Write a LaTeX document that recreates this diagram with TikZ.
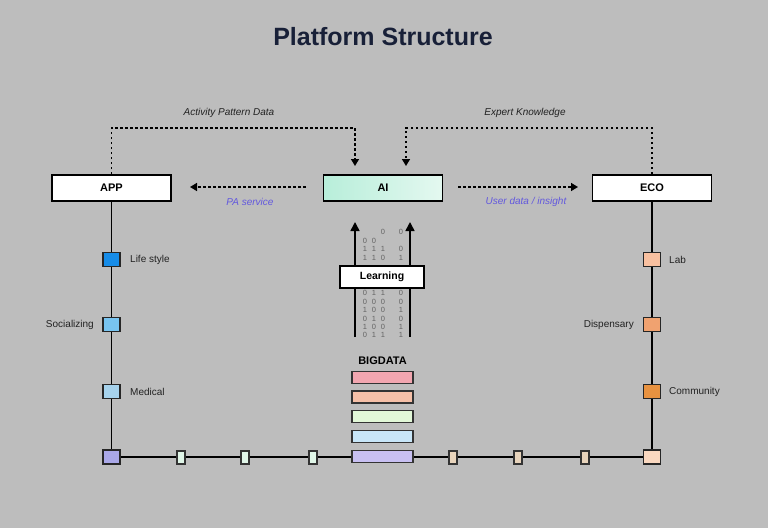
\documentclass[tikz,border=0pt]{standalone}
\usepackage{fontspec}
\setmainfont{Liberation Sans}
\usetikzlibrary{arrows.meta,calc}
\definecolor{bg}{RGB}{189,189,189}
\definecolor{titlecol}{RGB}{24,32,56}
\definecolor{txt}{RGB}{34,34,34}
\definecolor{bluelbl}{RGB}{98,88,222}
\definecolor{aimint}{RGB}{184,238,218}
\definecolor{aimintl}{RGB}{228,248,240}
\definecolor{digit}{RGB}{100,100,100}
\definecolor{sqA}{RGB}{22,140,232}
\definecolor{sqB}{RGB}{120,196,240}
\definecolor{sqC}{RGB}{166,210,236}
\definecolor{sqD}{RGB}{170,168,232}
\definecolor{sqE}{RGB}{248,192,160}
\definecolor{sqF}{RGB}{240,162,112}
\definecolor{sqG}{RGB}{232,146,64}
\definecolor{sqH}{RGB}{250,216,192}
\definecolor{tkG}{RGB}{224,246,232}
\definecolor{tkB}{RGB}{232,212,188}
\definecolor{barA}{RGB}{242,166,176}
\definecolor{barB}{RGB}{246,192,168}
\definecolor{barC}{RGB}{226,248,216}
\definecolor{barD}{RGB}{200,230,248}
\definecolor{barE}{RGB}{200,192,242}
\begin{document}
\begin{tikzpicture}[x=1pt,y=-1pt,
  mainbox/.style={draw=black, line width=1.6pt, fill=white, minimum width=119pt,
    minimum height=26pt, inner sep=0pt, font=\bfseries\fontsize{11}{13}\selectfont, text=black},
  sq/.style={draw=black!85, line width=1.3pt, minimum width=17pt, minimum height=14pt, inner sep=0pt},
  tick/.style={draw=black!80, line width=1.1pt, minimum width=8pt, minimum height=13pt, inner sep=0pt},
  databar/.style={draw=black!80, line width=1.3pt, minimum width=61pt, minimum height=12pt, inner sep=0pt},
  lbl/.style={font=\fontsize{10}{12}\selectfont, text=txt, inner sep=0pt},
  flowlbl/.style={font=\itshape\fontsize{10}{12}\selectfont, text=txt, inner sep=0pt},
  bluelabel/.style={font=\itshape\fontsize{10}{12}\selectfont, text=bluelbl, inner sep=0pt},
  dotline/.style={line width=1.5pt, dash pattern=on 2.6pt off 2.4pt, black},
  dotarrow/.style={dotline, -{Triangle[width=8pt,length=7pt]}},
  solidline/.style={line width=1.5pt, black},
  uparrow/.style={line width=1.6pt, black, -{Triangle[width=9pt,length=9pt]}},
  dig/.style={font=\fontsize{7.5}{7.5}\selectfont, text=digit, inner sep=0pt}
]
\fill[bg] (0,0) rectangle (768,528);
\useasboundingbox (0,0) rectangle (768,528);

% title
\node[font=\bfseries\fontsize{25}{30}\selectfont, text=titlecol] (title) at (383,37) {Platform Structure};

% main boxes
\node[mainbox] (app) at (111.5,188) {APP};
\node[mainbox, left color=aimint, right color=aimintl] (ai) at (383,188) {AI};
\node[mainbox] (eco) at (652,188) {ECO};

% top feedback connectors
\coordinate (toprow) at (0,128);
\coordinate (aiinL) at (355,166);
\coordinate (aiinR) at (406,166);
\draw[dotarrow] (app.north) -- (app.north |- toprow) -| (aiinL);
\draw[dotarrow] (eco.north) -- (eco.north |- toprow) -| (aiinR);
\node[flowlbl] (apdlbl) at (229,112.5) {Activity Pattern Data};
\node[flowlbl] (eklbl) at (525,112.5) {Expert Knowledge};

% horizontal service connectors
\coordinate (pas) at (306,187);
\coordinate (pae) at (190,187);
\coordinate (uds) at (458,187);
\coordinate (ude) at (578,187);
\draw[dotarrow] (pas) -- (pae);
\draw[dotarrow] (uds) -- (ude);
\node[bluelabel] (palbl) at (250,202) {PA service};
\node[bluelabel] (udlbl) at (526,202) {User data / insight};

% binary digits (x = no digit)
\foreach \x/\col in {365/{x,0,1,1}, 374/{x,0,1,1}, 383/{0,x,1,0}, 401/{0,x,0,1}} {
  \foreach \d [count=\i] in \col {
    \if\d x\else\node[dig] at (\x,{223+8.8*\i}) {\d};\fi
  }
}
\foreach \x/\col in {365/{0,0,1,0,1,0}, 374/{1,0,0,1,0,1}, 383/{1,0,0,0,0,1}, 401/{0,0,1,0,1,1}} {
  \foreach \d [count=\i] in \col {
    \node[dig] at (\x,{285+8.4*\i}) {\d};
  }
}

% learning arrows
\coordinate (lrnLb) at (355,337);
\coordinate (lrnLt) at (355,222);
\coordinate (lrnRb) at (410,337);
\coordinate (lrnRt) at (410,222);
\draw[uparrow] (lrnLb) -- (lrnLt);
\draw[uparrow] (lrnRb) -- (lrnRt);
\node[draw=black, line width=1.6pt, fill=white, minimum width=84pt, minimum height=22pt,
  inner sep=0pt, font=\bfseries\fontsize{10.5}{12}\selectfont] (learn) at (382,277) {Learning};

% big data
\node[font=\bfseries\fontsize{11}{13}\selectfont, text=black] (bdlbl) at (382.5,361) {BIGDATA};

% frame lines
\coordinate (bl) at (111.5,457);
\coordinate (br) at (652,457);
\draw[solidline] (app.south) -- (bl) -- (br) -- (eco.south);

\node[databar, fill=barA] (bar1) at (382.5,377.5) {};
\node[databar, fill=barB] (bar2) at (382.5,397) {};
\node[databar, fill=barC] (bar3) at (382.5,416.5) {};
\node[databar, fill=barD] (bar4) at (382.5,436.5) {};
\node[databar, fill=barE] (bar5) at (382.5,456.5) {};

% left column squares
\node[sq, fill=sqA] (life) at (111.5,259.5) {};
\node[sq, fill=sqB] (soc) at (111.5,324.5) {};
\node[sq, fill=sqC] (med) at (111.5,391.5) {};
\node[sq, fill=sqD] (blsq) at (111.5,457) {};
\node[lbl, anchor=west] (lifelbl) at (130,259.5) {Life style};
\node[lbl, anchor=east] (soclbl) at (94,324.5) {Socializing};
\node[lbl, anchor=west] (medlbl) at (130,392) {Medical};

% right column squares
\node[sq, fill=sqE] (lab) at (652,259.5) {};
\node[sq, fill=sqF] (disp) at (652,324.5) {};
\node[sq, fill=sqG] (comm) at (652,391.5) {};
\node[sq, fill=sqH] (brsq) at (652,457) {};
\node[lbl, anchor=west] (lablbl) at (669,259.5) {Lab};
\node[lbl, anchor=east] (displbl) at (634,324.5) {Dispensary};
\node[lbl, anchor=west] (commlbl) at (669,392) {Community};

% bottom ticks
\node[tick, fill=tkG] (t1) at (181,457.5) {};
\node[tick, fill=tkG] (t2) at (245,457.5) {};
\node[tick, fill=tkG] (t3) at (313,457.5) {};
\node[tick, fill=tkB] (t4) at (453,457.5) {};
\node[tick, fill=tkB] (t5) at (518,457.5) {};
\node[tick, fill=tkB] (t6) at (585,457.5) {};
\end{tikzpicture}
\end{document}
